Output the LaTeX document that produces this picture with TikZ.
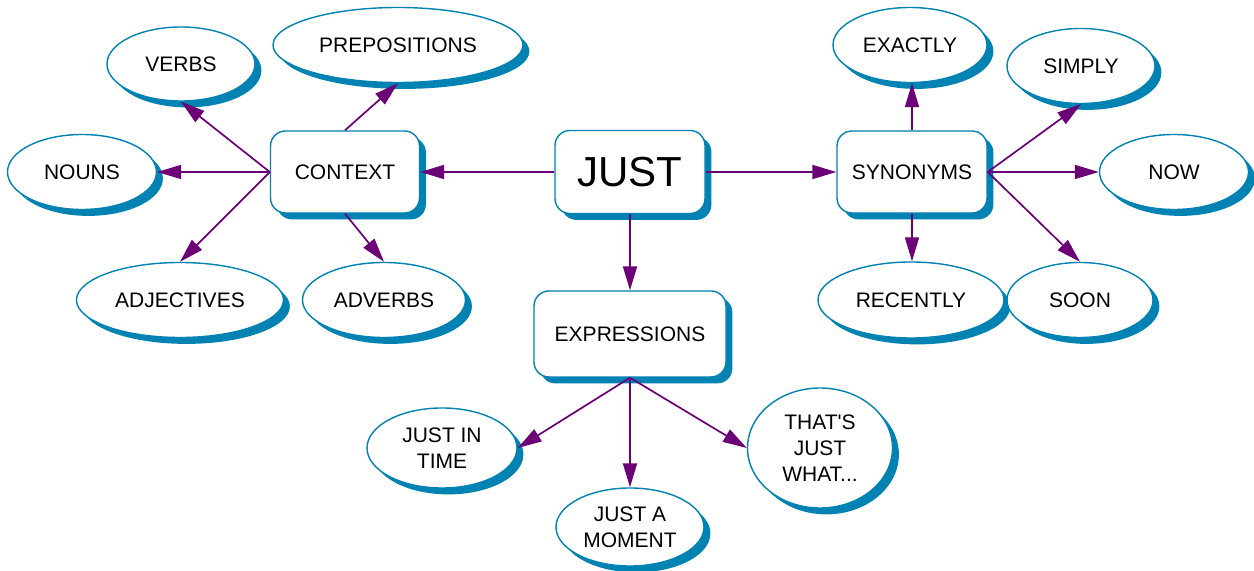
\documentclass[tikz,border=0pt]{standalone}
\usepackage{fontspec}
\setmainfont{Liberation Sans}[Ligatures=TeXOff]
\usetikzlibrary{arrows.meta,shapes.geometric,shadows}
\definecolor{rimblue}{RGB}{0,130,178}
\definecolor{linkpurple}{RGB}{108,0,118}
\begin{document}
\begin{tikzpicture}[x=0.5pt,y=-0.5pt,
  base/.style={draw=rimblue, line width=0.7pt, fill=white, inner sep=0pt,
    align=center, text=black, font=\fontsize{10.5}{13}\selectfont,
    drop shadow={shadow xshift=3.2pt, shadow yshift=-3.2pt, fill=rimblue, opacity=1}},
  topic/.style={base, rectangle, rounded corners=7.5pt},
  leaf/.style={base, ellipse},
  link/.style={draw=linkpurple, line width=0.85pt,
    -{Triangle[length=12pt,width=7pt]}}
]
\useasboundingbox (0,0) rectangle (1254,571);

% central word and the three topic boxes
\node[topic, minimum width=75pt, minimum height=41.5pt,
      font=\fontsize{21}{25}\selectfont] (just) at (630,172) {JUST};
\node[topic, minimum width=74.5pt, minimum height=41pt] (context) at (345,172) {CONTEXT};
\node[topic, minimum width=75pt, minimum height=41pt] (syn) at (912,172) {SYNONYMS};
\node[topic, minimum width=96pt, minimum height=43pt] (expr) at (630,334) {EXPRESSIONS};

% context leaves
\node[leaf, minimum width=74pt, minimum height=37pt] (verbs) at (181,64) {VERBS};
\node[leaf, minimum width=125pt, minimum height=37.5pt] (prep) at (398,45) {PREPOSITIONS};
\node[leaf, minimum width=74.5pt, minimum height=37.5pt] (nouns) at (82,172) {NOUNS};
\node[leaf, minimum width=103.5pt, minimum height=37.5pt] (adj) at (180,300) {ADJECTIVES};
\node[leaf, minimum width=81.5pt, minimum height=37.5pt] (adv) at (384,300) {ADVERBS};

% synonym leaves
\node[leaf, minimum width=77pt, minimum height=37.5pt] (exactly) at (910,45) {EXACTLY};
\node[leaf, minimum width=74pt, minimum height=37.5pt] (simply) at (1081,66) {SIMPLY};
\node[leaf, minimum width=74.5pt, minimum height=37.5pt] (now) at (1174,172) {NOW};
\node[leaf, minimum width=93pt, minimum height=38pt] (recently) at (911,300) {RECENTLY};
\node[leaf, minimum width=73pt, minimum height=37.5pt] (soon) at (1080,300) {SOON};

% expression leaves
\node[leaf, minimum width=75pt, minimum height=40pt] (jit) at (442,448) {JUST IN\\TIME};
\node[leaf, minimum width=74pt, minimum height=39pt] (moment) at (630,527) {JUST A\\MOMENT};
\node[leaf, minimum width=72.5pt, minimum height=60pt] (what) at (820,448)
  {THAT'S\\JUST\\WHAT...};

% connectors
\draw[link] (just.west) -- (context.east);
\draw[link] (just.east) -- (syn.west);
\draw[link] (just.south) -- (expr.north);

\draw[link] (context.west) -- (verbs.south);
\draw[link] (context.west) -- (nouns.east);
\draw[link] (context.west) -- (adj.north);
\draw[link] (context.north) -- (prep.south);
\draw[link] (context.south) -- (adv.north);

\draw[link] (syn.north) -- (syn.north |- exactly.south);
\draw[link] (syn.east) -- (simply.south);
\draw[link] (syn.east) -- (now.west);
\draw[link] (syn.east) -- (soon.north);
\draw[link] (syn.south) -- (syn.south |- recently.north);

\draw[link] (expr.south) -- (jit.east);
\draw[link] (expr.south) -- (moment.north);
\draw[link] (expr.south) -- (what.west);
\end{tikzpicture}
\end{document}
